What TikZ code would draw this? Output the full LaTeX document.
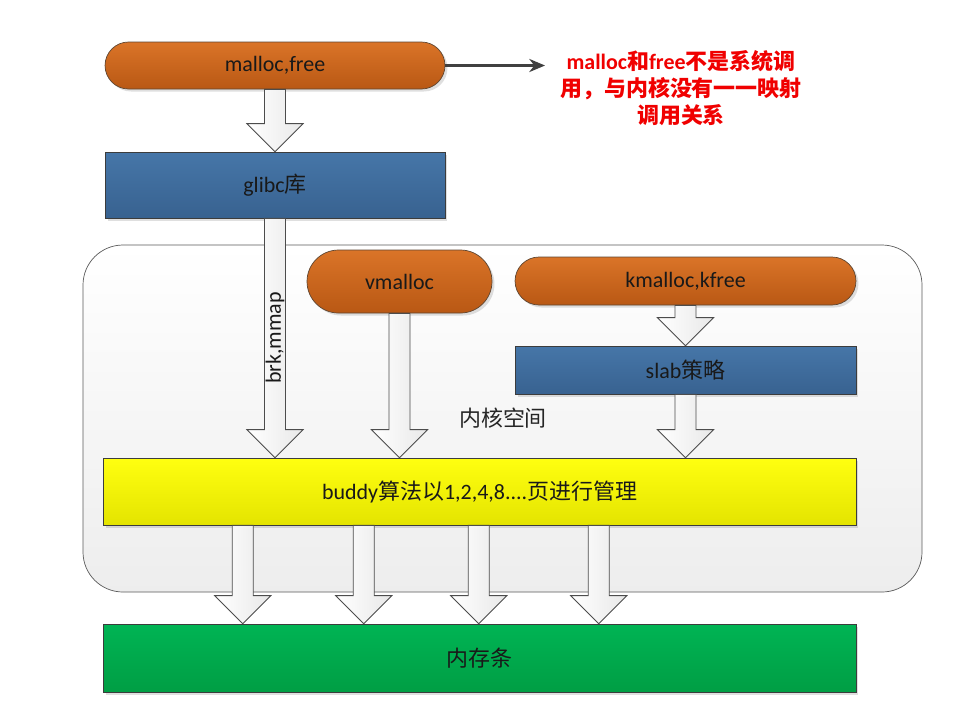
\documentclass[tikz,border=0pt]{standalone}
\usepackage{fontspec}
\setmainfont{Carlito}
\newfontfamily\cjk{Noto Sans CJK SC}
\usetikzlibrary{calc,shadows,arrows.meta}

\definecolor{orangetop}{HTML}{DA7428}
\definecolor{orangebot}{HTML}{B95814}
\definecolor{pillline}{HTML}{5E4632}
\definecolor{bluetop}{HTML}{4676A8}
\definecolor{bluebot}{HTML}{386290}
\definecolor{yellowtop}{HTML}{FFFF10}
\definecolor{yellowbot}{HTML}{E4E400}
\definecolor{greentop}{HTML}{00B454}
\definecolor{greenbot}{HTML}{009E44}
\definecolor{boxline}{HTML}{3C3C3C}
\definecolor{kernline}{HTML}{5A5A5A}
\definecolor{notered}{HTML}{F00000}

\begin{document}
\begin{tikzpicture}[x=0.02cm, y=-0.02cm, >={Stealth[length=9pt,width=7.5pt]},
  font=\fontsize{12.5}{15}\selectfont,
  pill/.style={draw=pillline, top color=orangetop, bottom color=orangebot,
    rounded corners=#1, inner sep=0pt, text=black!90,
    drop shadow={opacity=0.25, shadow xshift=0.05cm, shadow yshift=-0.05cm}},
  box/.style={draw=boxline, inner sep=0pt, text=black!90,
    drop shadow={opacity=0.25, shadow xshift=0.05cm, shadow yshift=-0.05cm}},
  fat/.style={draw=black!70, line width=0.5pt, left color=white, right color=black!9}]

% 背景与画布大小
\fill[white] (0,0) rectangle (959,721);
\useasboundingbox (0,0) rectangle (959,721);

% 空心粗箭头: #1 起点, #2 箭头尖所在的节点边
\newcommand{\fatarrow}[2]{%
  \draw[fat] ($(#1)+(-10.5,0)$) -- ($(#1 |- #2)+(-10.5,-28)$)
    -- ($(#1 |- #2)+(-28,-28)$) -- (#1 |- #2) -- ($(#1 |- #2)+(28,-28)$)
    -- ($(#1 |- #2)+(10.5,-28)$) -- ($(#1)+(10.5,0)$) -- cycle;}

% 内核空间大框
\draw[draw=kernline, top color=white, bottom color=black!7, rounded corners=0.8cm]
  (83,245) rectangle (922,592);
\node[text=black!85] (kspace) at (503,418) {\cjk 内核空间};

% 用户态
\node[pill=0.47cm, minimum width=6.8cm, minimum height=0.94cm] (malloc) at (275,65.5) {malloc,free};
\node[box, top color=bluetop, bottom color=bluebot, minimum width=6.8cm, minimum height=1.32cm]
  (glibc) at (275,185) {glibc{\cjk 库}};

% 说明文字
\node[text=notered, align=center, font=\fontsize{12.5}{15.4}\selectfont\bfseries] (note) at (681,88)
  {malloc{\cjk 和}free{\cjk 不是系统调}\\{\cjk 用，与内核没有一一映射}\\{\cjk 调用关系}};
\draw[->, line width=1.3pt, draw=black!75] (malloc.east) -- ($(malloc.east -| note.west)+(-9,0)$);

% 内核态
\node[pill=0.63cm, minimum width=3.7cm, minimum height=1.26cm] (vmalloc) at (399.5,281.5) {vmalloc};
\node[pill=0.48cm, minimum width=6.82cm, minimum height=0.96cm] (kmalloc) at (685.5,281) {kmalloc,kfree};
\node[box, top color=bluetop, bottom color=bluebot, minimum width=6.82cm, minimum height=0.96cm]
  (slab) at (685.5,370) {slab{\cjk 策略}};
\node[box, top color=yellowtop, bottom color=yellowbot, minimum width=15.06cm, minimum height=1.34cm]
  (buddy) at (479.5,491.5) {buddy{\cjk 算法以}1,2,4,8....{\cjk 页进行管理}};

% 物理内存
\node[box, top color=greentop, bottom color=greenbot, minimum width=15.06cm, minimum height=1.36cm]
  (mem) at (479.5,658) {\cjk 内存条};

% 粗箭头
\fatarrow{malloc.south}{glibc.north}
\fatarrow{glibc.south}{buddy.north}
\fatarrow{vmalloc.south}{buddy.north}
\fatarrow{kmalloc.south}{slab.north}
\fatarrow{slab.south}{buddy.north}
\foreach \dx [count=\i] in {140,261,376,496}
  \coordinate (b\i) at ($(buddy.south west)+(\dx,0)$);
\foreach \i in {1,...,4}
  \fatarrow{b\i}{mem.north};

\node[rotate=90, text=black!90] (brk) at ($(glibc.south)!0.5!(glibc.south |- buddy.north)$) {brk,mmap};

\end{tikzpicture}
\end{document}
